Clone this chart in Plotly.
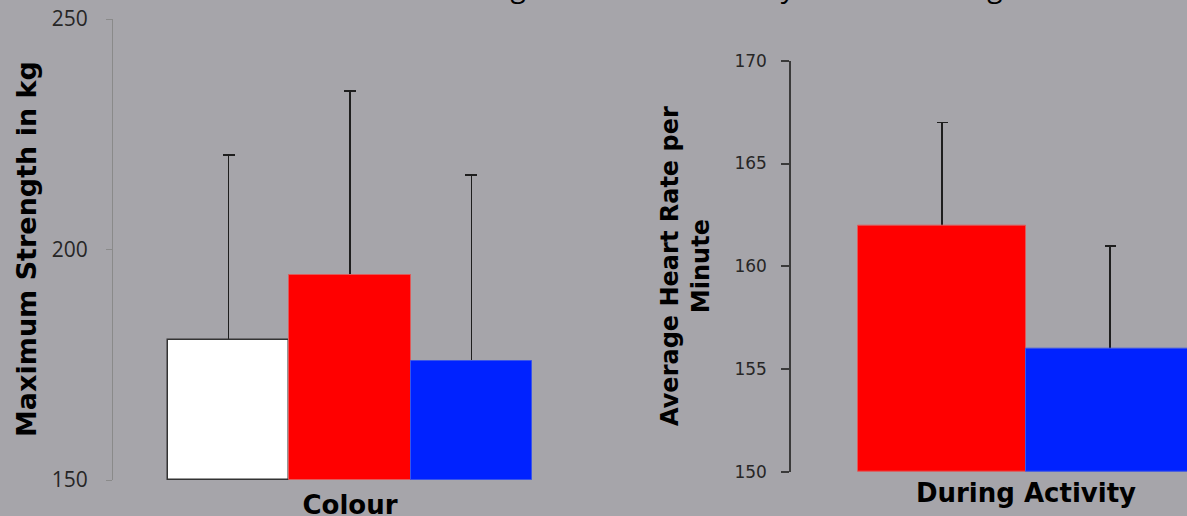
import plotly.graph_objects as go

# Left panel: maximum strength by colour
strength_group = ["Colour"]
strength_series = ["White", "Red", "Blue"]
strength_means = [180.4, 194.5, 175.8]
strength_err = [40.1, 39.9, 40.4]
strength_ticks = [150, 200, 250]

# Right panel: average heart rate during activity
hr_group = ["During Activity"]
hr_series = ["Red", "Blue"]
hr_means = [162.0, 156.0]
hr_err = [5.0, 5.0]
hr_ticks = [150, 155, 160, 165, 170]

title_text = "Maximum Strength and Heart Rate by Colour Training"

BG = "#A6A5AA"
fills = {"White": "#FFFFFF", "Red": "#FF0000", "Blue": "#0022FF"}
edges = {"White": "#333333", "Red": "#E05A5A", "Blue": "#3A55E8"}
edge_w = {"White": 1.5, "Red": 1, "Blue": 1}

W, H = 1187, 516


def px_x(p):
    return p / W


def px_y(p):
    return 1 - p / H


fig = go.Figure()


def add_panel(groups, series, means, errs, xa, ya_err, ya_bar, cap):
    # error bars live on the base axis, underneath the bars drawn on the overlay axis
    for name, m, e in zip(series, means, errs):
        fig.add_trace(go.Bar(
            x=groups, y=[m - 150], base=150, name=name, showlegend=False,
            marker=dict(color="rgba(0,0,0,0)", line=dict(width=0)),
            error_y=dict(type="data", array=[e], color="#1E1E1E",
                         thickness=1.5, width=cap),
            xaxis=xa, yaxis=ya_err, offsetgroup=name, hoverinfo="skip",
        ))
    for name, m in zip(series, means):
        fig.add_trace(go.Bar(
            x=groups, y=[m - 150], base=150, name=name, showlegend=False,
            marker=dict(color=fills[name],
                        line=dict(color=edges[name], width=edge_w[name])),
            xaxis=xa, yaxis=ya_bar, offsetgroup=name,
        ))


add_panel(strength_group, strength_series, strength_means, strength_err,
          "x", "y", "y3", 6)
add_panel(hr_group, hr_series, hr_means, hr_err,
          "x2", "y2", "y4", 5.5)

bold_font = dict(family="DejaVu Sans", size=26, color="#000000", weight="bold")

left_dom = [px_y(480), px_y(19)]
right_dom = [px_y(472), px_y(60.7)]

fig.update_layout(
    width=W, height=H,
    margin=dict(l=0, r=0, t=0, b=0, autoexpand=False),
    paper_bgcolor=BG, plot_bgcolor=BG,
    showlegend=False,
    barmode="group", bargap=0, bargroupgap=0,
    xaxis=dict(
        domain=[px_x(113), px_x(600)],
        range=[-(350 - 113) / 364, -(350 - 113) / 364 + (600 - 113) / 364],
        showline=False, showgrid=False, zeroline=False, ticks="",
        tickfont=bold_font, ticklabelstandoff=7, anchor="y", automargin=False,
    ),
    yaxis=dict(
        domain=left_dom, range=[150, 250],
        tickvals=strength_ticks, showgrid=False, zeroline=False,
        showline=True, linecolor="#8A8A8A", linewidth=1,
        ticks="outside", ticklen=6, tickcolor="#8A8A8A", tickwidth=1,
        tickfont=dict(family="Open Sans", size=21, color="#262626"),
        ticklabelstandoff=14, anchor="x", automargin=False,
    ),
    yaxis3=dict(
        domain=left_dom, range=[150, 250], overlaying="y", anchor="x",
        visible=False, showgrid=False, zeroline=False, automargin=False,
    ),
    xaxis2=dict(
        domain=[px_x(791), 1.0],
        range=[-(1026 - 791) / 336, -(1026 - 791) / 336 + (1187 - 791) / 336],
        showline=False, showgrid=False, zeroline=False, ticks="",
        tickfont=bold_font, ticklabelstandoff=3, anchor="y2", automargin=False,
    ),
    yaxis2=dict(
        domain=right_dom, range=[150, 170],
        tickvals=hr_ticks, showgrid=False, zeroline=False,
        showline=True, linecolor="#3A3A3A", linewidth=1.5,
        ticks="outside", ticklen=8, tickcolor="#3A3A3A", tickwidth=1.5,
        tickfont=dict(family="DejaVu Sans", size=17, color="#262626"),
        ticklabelstandoff=11, anchor="x2", automargin=False,
    ),
    yaxis4=dict(
        domain=right_dom, range=[150, 170], overlaying="y2", anchor="x2",
        visible=False, showgrid=False, zeroline=False, automargin=False,
    ),
    annotations=[
        dict(text="Maximum Strength in kg", textangle=-90,
             x=px_x(27), y=px_y(249), xref="paper", yref="paper",
             xanchor="center", yanchor="middle", showarrow=False,
             font=dict(family="DejaVu Sans", size=27, color="#000000", weight="bold")),
        dict(text="Average Heart Rate per<br>Minute", textangle=-90,
             x=px_x(685), y=px_y(266), xref="paper", yref="paper",
             xanchor="center", yanchor="middle", showarrow=False,
             font=dict(family="DejaVu Sans", size=24, color="#000000", weight="bold")),
        dict(text=title_text,
             x=px_x(300), y=1, xref="paper", yref="paper",
             xanchor="left", yanchor="bottom", yshift=-7, showarrow=False,
             font=dict(family="Open Sans", size=28, color="#000000")),
    ],
)

fig.write_html("out.html")
